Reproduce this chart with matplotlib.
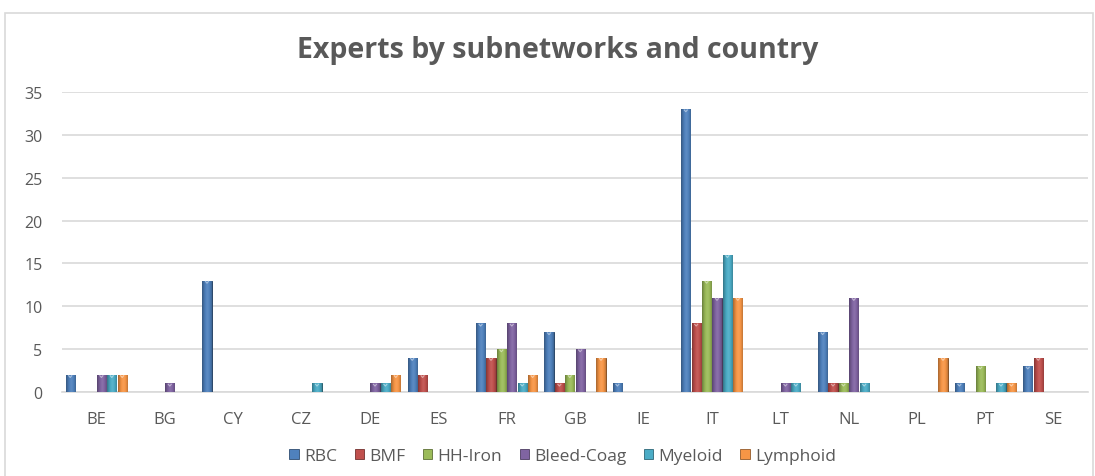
import numpy as np
import matplotlib
matplotlib.use("Agg")
import matplotlib.pyplot as plt
from matplotlib.patches import Rectangle, Patch
from matplotlib.colors import to_rgb

countries = ["BE", "BG", "CY", "CZ", "DE", "ES", "FR", "GB", "IE", "IT",
             "LT", "NL", "PL", "PT", "SE"]
series_names = ["RBC", "BMF", "HH-Iron", "Bleed-Coag", "Myeloid", "Lymphoid"]
rbc        = [2, 0, 13, 0, 0, 4, 8, 7, 1, 33, 0, 7, 0, 1, 3]
bmf        = [0, 0, 0, 0, 0, 2, 4, 1, 0, 8, 0, 1, 0, 0, 4]
hh_iron    = [0, 0, 0, 0, 0, 0, 5, 2, 0, 13, 0, 1, 0, 3, 0]
bleed_coag = [2, 1, 0, 0, 1, 0, 8, 5, 0, 11, 1, 11, 0, 0, 0]
myeloid    = [2, 0, 0, 1, 1, 0, 1, 0, 0, 16, 1, 1, 0, 1, 0]
lymphoid   = [2, 0, 0, 0, 2, 0, 2, 4, 0, 11, 0, 0, 4, 1, 0]
series = [rbc, bmf, hh_iron, bleed_coag, myeloid, lymphoid]
colors = ["#4F81BD", "#C0504D", "#9BBB59", "#8064A2", "#4BACC6", "#F79646"]
y_ticks = [0, 5, 10, 15, 20, 25, 30, 35]

text_color = "#595959"
plt.rcParams["font.family"] = ["Open Sans", "DejaVu Sans"]

fig = plt.figure(figsize=(10.95, 4.77), dpi=100)
ax = fig.add_axes([0.0566, 0.176, 0.937, 0.629])

# outer chart frame
fig.patches.append(Rectangle((0.005, -0.02), 0.993, 0.991, transform=fig.transFigure,
                             fill=False, edgecolor="#D9D9D9", linewidth=1.2))

x = np.arange(len(countries))
step = 0.152
width = 0.135


def shade(c, f):
    r = np.array(to_rgb(c))
    if f < 1:
        return r * f
    return r + (1 - r) * (f - 1)


for i, (vals, col) in enumerate(zip(series, colors)):
    offs = (i - 2.5) * step
    bars = ax.bar(x + offs, vals, width=width, color=col,
                  edgecolor=shade(col, 0.55), linewidth=0.7, zorder=3)
    # cylinder-like horizontal shading across each bar
    prof = np.linspace(-1, 1, 40)
    fac = 1.0 + 0.35 * (1 - np.abs(prof - 0.1) ** 1.5) - 0.27
    grad = np.array([shade(col, f) for f in fac])
    for b in bars:
        h = b.get_height()
        if h <= 0:
            continue
        x0 = b.get_x()
        bw = b.get_width()
        im = ax.imshow(grad[np.newaxis, :, :], extent=(x0, x0 + bw, 0, h),
                       aspect="auto", zorder=3.5, interpolation="bilinear")
        im.set_clip_path(b)
        # small bevelled cap
        ax.plot([x0 + bw * 0.3, x0 + bw * 0.5, x0 + bw * 0.7],
                [h - 0.05, h - 0.3, h - 0.05], color=shade(col, 1.5), linewidth=0.8,
                zorder=4, solid_capstyle="butt")

ax.set_xlim(-0.5, len(countries) - 0.5)
ax.set_ylim(0, 35)
ax.set_yticks(y_ticks)
ax.set_xticks(x)
ax.set_xticklabels(countries)
ax.yaxis.grid(True, color="#D9D9D9", linewidth=1.2, zorder=0)
ax.set_axisbelow(True)
for s in ["top", "right", "left"]:
    ax.spines[s].set_visible(False)
ax.spines["bottom"].set_color("#D9D9D9")
ax.spines["bottom"].set_linewidth(1.2)
ax.tick_params(axis="both", length=0, labelsize=11.5, colors=text_color)
ax.tick_params(axis="x", pad=14, labelsize=12)
ax.tick_params(axis="y", pad=14)

fig.text(0.509, 0.895, "Experts by subnetworks and country", ha="center", va="center",
         fontsize=20.5, fontweight="bold", color=text_color)

handles = [Patch(facecolor=c, edgecolor=shade(c, 0.6), linewidth=0.6) for c in colors]
fig.legend(handles, series_names, loc="center", bbox_to_anchor=(0.514, 0.042), ncol=6,
           frameon=False, fontsize=12.5, handlelength=0.55, handleheight=0.55,
           handletextpad=0.3, columnspacing=1.0, labelcolor=text_color)

fig.savefig("out.png", dpi=100)
